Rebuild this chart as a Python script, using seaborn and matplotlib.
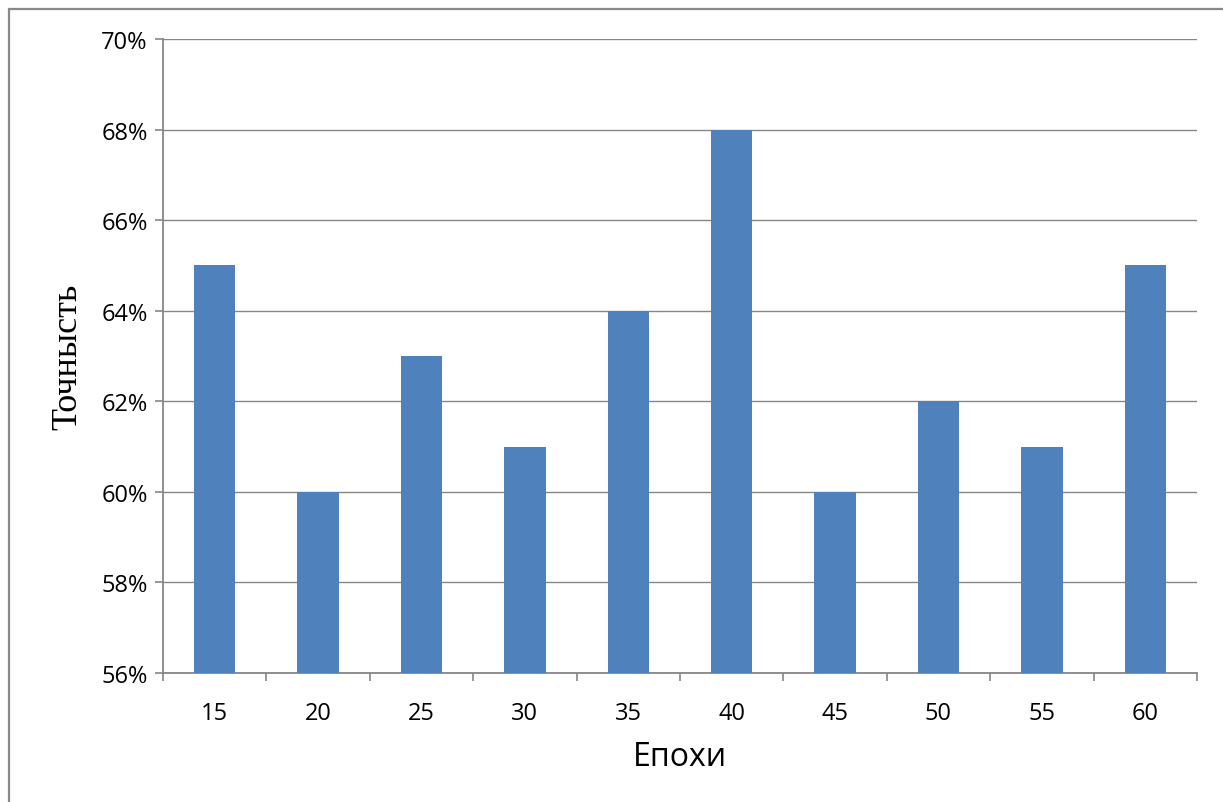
import matplotlib
matplotlib.use("Agg")
import matplotlib.pyplot as plt
import seaborn as sns
import pandas as pd
import numpy as np
from matplotlib.patches import Rectangle
from matplotlib.ticker import FuncFormatter, FixedLocator

epochs = ["15", "20", "25", "30", "35", "40", "45", "50", "55", "60"]
accuracy = [0.65, 0.60, 0.63, 0.61, 0.64, 0.68, 0.60, 0.62, 0.61, 0.65]
y_ticks = [0.56, 0.58, 0.60, 0.62, 0.64, 0.66, 0.68, 0.70]

sns.set_theme(style="white")
plt.rcParams["font.family"] = ["Open Sans", "DejaVu Sans"]

W, H = 1223, 803
fig = plt.figure(figsize=(W / 100, H / 100), dpi=100)
ax = fig.add_axes([163 / W, 1 - 674 / H, (1197 - 163) / W, (674 - 40) / H])

df = pd.DataFrame({"epoch": epochs, "acc": accuracy})
sns.barplot(data=df, x="epoch", y="acc", order=epochs, color="#4F81BD",
            saturation=1, width=0.4, linewidth=0, ax=ax, zorder=3)

grid_c = "#868686"
ax.set_ylim(0.56, 0.70)
ax.set_xlim(-0.5, len(epochs) - 0.5)
ax.set_yticks(y_ticks)
ax.yaxis.set_major_formatter(FuncFormatter(lambda v, p: f"{round(v * 100)}%"))
ax.yaxis.grid(True, color=grid_c, linewidth=1.0, zorder=0)
ax.set_axisbelow(True)

for s in ["top", "right"]:
    ax.spines[s].set_visible(False)
for s in ["left", "bottom"]:
    ax.spines[s].set_color(grid_c)
    ax.spines[s].set_linewidth(1.3)

ax.tick_params(axis="y", which="major", length=6, width=1.2, color=grid_c,
               direction="out", left=True, labelsize=17, pad=5, labelcolor="black")
ax.tick_params(axis="x", which="major", length=0, labelsize=17, pad=20, labelcolor="black")
ax.xaxis.set_minor_locator(FixedLocator(np.arange(-0.5, len(epochs), 1.0)))
ax.tick_params(axis="x", which="minor", length=6, width=1.2, color=grid_c,
               direction="out", bottom=True)

ax.set_xlabel("Епохи", fontsize=23, labelpad=11, color="black")
ax.set_ylabel("Точнысть", fontsize=26, family=["Liberation Serif", "DejaVu Serif"],
              labelpad=12, color="black")

# Outer chart frame
fig.add_artist(Rectangle((9 / W, -0.1), 1.2, 1 - 10 / H + 0.1, transform=fig.transFigure,
                         fill=False, edgecolor="#888888", linewidth=1.6))

fig.savefig("out.png", dpi=100, facecolor="white")
